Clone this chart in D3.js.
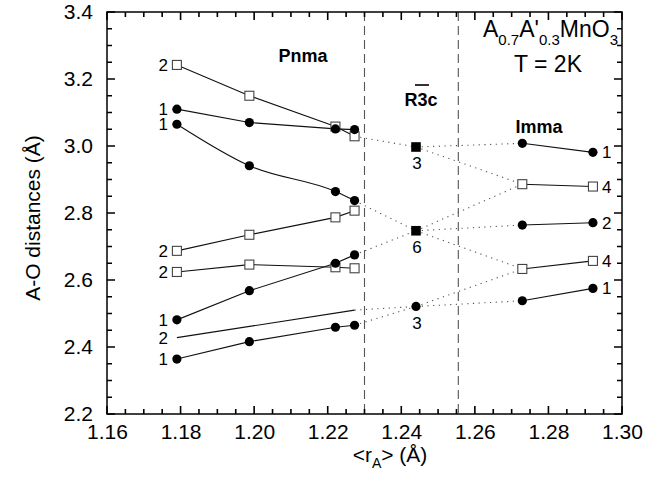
<!DOCTYPE html>
<html><head><meta charset="utf-8">
<script src="https://cdn.jsdelivr.net/npm/d3@7"></script>
<style>body{margin:0;background:#fff}svg{display:block}text{font-family:"Liberation Sans",Arial,Helvetica,sans-serif}</style>
</head><body><svg id="c" width="646" height="477"></svg>
<script>
// ---------- data ----------
const xPnma = [1.179, 1.1987, 1.2221, 1.2273];
const xR3c = [1.244];
const xImma = [1.2729, 1.2921];
const xTicks = [1.16, 1.18, 1.20, 1.22, 1.24, 1.26, 1.28, 1.30];
const yTicks = [2.2, 2.4, 2.6, 2.8, 3.0, 3.2, 3.4];
const phaseBounds = [1.2300, 1.2555];

// Pnma series (values at xPnma)
const pnmaSq2a = [3.242, 3.150, 3.058, 3.029];
const pnmaC1a  = [3.110, 3.070, 3.051, 3.049];
const pnmaC1b  = [3.065, 2.941, 2.864, 2.837];
const pnmaSq2b = [2.687, 2.735, 2.787, 2.807];
const pnmaSq2c = [2.624, 2.646, 2.638, 2.635];
const pnmaC1c  = [2.481, 2.568, 2.650, 2.675];
const pnmaL2x  = [1.179, 1.2273];
const pnmaL2   = [2.428, 2.510];
const pnmaC1d  = [2.364, 2.416, 2.459, 2.465];
const pnmaLabels = ["2", "1", "1", "2", "2", "1", "2", "1"];

// R-3c
const r3cValues = [2.997, 2.747, 2.521];
const r3cLabels = ["3", "6", "3"];
const r3cMarkers = ["square", "square", "circle"];

// Imma
const immaC1a  = [3.008, 2.981];
const immaSq4a = [2.886, 2.879];
const immaC2   = [2.764, 2.771];
const immaSq4b = [2.633, 2.657];
const immaC1b  = [2.538, 2.575];
const immaLabels = ["1", "4", "2", "4", "1"];

// dotted links: [x1, y1, x2, y2]
const links = [
  [1.2273, 3.029, 1.244, 2.997],
  [1.244, 2.997, 1.2729, 3.008],
  [1.244, 2.997, 1.2729, 2.886],
  [1.2273, 2.837, 1.244, 2.747],
  [1.2273, 2.675, 1.244, 2.747],
  [1.244, 2.747, 1.2729, 2.886],
  [1.244, 2.747, 1.2729, 2.764],
  [1.244, 2.747, 1.2729, 2.633],
  [1.2273, 2.510, 1.244, 2.521],
  [1.2273, 2.465, 1.244, 2.521],
  [1.244, 2.521, 1.2729, 2.633],
  [1.244, 2.521, 1.2729, 2.538]
];

// ---------- drawing ----------
const svg = d3.select("#c");
const L = 107, R = 622, T = 12, B = 414;
const x = d3.scaleLinear().domain([1.16, 1.30]).range([L, R]);
const y = d3.scaleLinear().domain([2.2, 3.4]).range([B, T]);
const FONT = '"Liberation Sans",Arial,Helvetica,sans-serif';

// phase boundaries
svg.append("g").selectAll("line").data(phaseBounds).join("line")
  .attr("x1", d => x(d)).attr("x2", d => x(d)).attr("y1", T).attr("y2", B)
  .attr("stroke", "#555").attr("stroke-width", 1.1).attr("stroke-dasharray", "9,5");

// dotted links
svg.append("g").selectAll("line").data(links).join("line")
  .attr("x1", d => x(d[0])).attr("y1", d => y(d[1]))
  .attr("x2", d => x(d[2])).attr("y2", d => y(d[3]))
  .attr("stroke", "#555").attr("stroke-width", 1.1).attr("stroke-dasharray", "1.2,4.5");

// frame
svg.append("rect").attr("x", L).attr("y", T).attr("width", R - L).attr("height", B - T)
  .attr("fill", "none").attr("stroke", "#000").attr("stroke-width", 1.5);

// inward ticks on all four sides, built as one path from the scales
const minorX = d3.range(0, 29).map(i => 1.16 + i * 0.005);
const minorY = d3.range(0, 25).map(i => 2.2 + i * 0.05);
const isMajor = (v, step) => Math.abs(v / step - Math.round(v / step)) < 1e-6;
const tp = d3.path();
minorX.forEach(v => {
  const len = isMajor(v, 0.02) ? 8 : 5;
  const px = x(v);
  tp.moveTo(px, B); tp.lineTo(px, B - len);
  tp.moveTo(px, T); tp.lineTo(px, T + len);
});
minorY.forEach(v => {
  const len = isMajor(v, 0.2) ? 8 : 5;
  const py = y(v);
  tp.moveTo(L, py); tp.lineTo(L + len, py);
  tp.moveTo(R, py); tp.lineTo(R - len, py);
});
svg.append("path").attr("d", tp.toString()).attr("fill", "none").attr("stroke", "#000").attr("stroke-width", 1.6);

// tick labels via d3 axes
const xl = svg.append("g").attr("transform", `translate(0,${B})`)
  .call(d3.axisBottom(x).tickValues(xTicks).tickSize(0).tickPadding(10).tickFormat(d3.format(".2f")));
xl.select(".domain").remove();
xl.selectAll("text").attr("font-size", 21).attr("font-family", FONT).attr("fill", "#000");
const yl = svg.append("g").attr("transform", `translate(${L},0)`)
  .call(d3.axisLeft(y).tickValues(yTicks).tickSize(0).tickPadding(14).tickFormat(d3.format(".1f")));
yl.select(".domain").remove();
yl.selectAll("text").attr("font-size", 21).attr("font-family", FONT).attr("fill", "#000");

// series lines
const lineLin = d3.line().x(d => x(d[0])).y(d => y(d[1]));
const lineCurve = d3.line().x(d => x(d[0])).y(d => y(d[1])).curve(d3.curveMonotoneX);
const zip = (xs, ys) => xs.map((v, i) => [v, ys[i]]);

const pnmaSeries = [
  {v: pnmaSq2a, m: "osq"}, {v: pnmaC1a, m: "circle"}, {v: pnmaC1b, m: "circle", curve: true},
  {v: pnmaSq2b, m: "osq"}, {v: pnmaSq2c, m: "osq"}, {v: pnmaC1c, m: "circle"},
  {v: pnmaL2, xs: pnmaL2x, m: "none"}, {v: pnmaC1d, m: "circle"}
];
const immaSeries = [
  {v: immaC1a, m: "circle"}, {v: immaSq4a, m: "osq"}, {v: immaC2, m: "circle"},
  {v: immaSq4b, m: "osq"}, {v: immaC1b, m: "circle"}
];

const gLines = svg.append("g").attr("fill", "none").attr("stroke", "#111").attr("stroke-width", 1.1);
pnmaSeries.forEach(s => {
  gLines.append("path").attr("d", (s.curve ? lineCurve : lineLin)(zip(s.xs || xPnma, s.v)));
});
immaSeries.forEach(s => {
  gLines.append("path").attr("d", lineLin(zip(xImma, s.v)));
});

function marker(g, px, py, m) {
  if (m === "circle") g.append("circle").attr("cx", px).attr("cy", py).attr("r", 4.6).attr("fill", "#000");
  else if (m === "osq") g.append("rect").attr("x", px - 4.5).attr("y", py - 4.5).attr("width", 9).attr("height", 9)
    .attr("fill", "#fff").attr("stroke", "#444").attr("stroke-width", 1.1);
  else if (m === "square") g.append("rect").attr("x", px - 4.8).attr("y", py - 4.8).attr("width", 9.6).attr("height", 9.6).attr("fill", "#000");
}
const gM = svg.append("g");
pnmaSeries.forEach(s => { if (s.m !== "none") (s.xs || xPnma).forEach((xv, i) => marker(gM, x(xv), y(s.v[i]), s.m)); });
immaSeries.forEach(s => xImma.forEach((xv, i) => marker(gM, x(xv), y(s.v[i]), s.m)));
r3cValues.forEach((v, i) => marker(gM, x(xR3c[0]), y(v), r3cMarkers[i]));

// number labels
const gT = svg.append("g").attr("font-family", FONT).attr("font-size", 17).attr("fill", "#000");
pnmaSeries.forEach((s, i) => {
  gT.append("text").attr("x", x(s.xs ? s.xs[0] : xPnma[0]) - 9).attr("y", y(s.v[0]))
    .attr("dy", "0.36em").attr("text-anchor", "end").text(pnmaLabels[i]);
});
immaSeries.forEach((s, i) => {
  gT.append("text").attr("x", x(xImma[1]) + 9).attr("y", y(s.v[1]))
    .attr("dy", "0.36em").attr("text-anchor", "start").text(immaLabels[i]);
});
r3cValues.forEach((v, i) => {
  gT.append("text").attr("x", x(xR3c[0]) + 1).attr("y", y(v) + 16)
    .attr("dy", "0.36em").attr("text-anchor", "middle").text(r3cLabels[i]);
});

// phase labels
const gP = svg.append("g").attr("font-family", FONT).attr("font-size", 18).attr("font-weight", "bold").attr("fill", "#000");
gP.append("text").attr("x", 303).attr("y", 62).attr("text-anchor", "middle").text("Pnma");
gP.append("text").attr("x", 421).attr("y", 106).attr("text-anchor", "middle").text("R3c");
svg.append("line").attr("x1", 415).attr("x2", 429).attr("y1", 85).attr("y2", 85).attr("stroke", "#000").attr("stroke-width", 1.6);
gP.append("text").attr("x", 539).attr("y", 133).attr("text-anchor", "middle").text("Imma");

// title
const t1 = svg.append("text").attr("x", 483).attr("y", 37).attr("font-family", FONT).attr("font-size", 23).attr("fill", "#000");
t1.append("tspan").text("A");
t1.append("tspan").attr("font-size", 15).attr("dy", 8).text("0.7");
t1.append("tspan").attr("dy", -8).text("A'");
t1.append("tspan").attr("font-size", 15).attr("dy", 8).text("0.3");
t1.append("tspan").attr("dy", -8).text("MnO");
t1.append("tspan").attr("font-size", 15).attr("dy", 8).text("3");
svg.append("text").attr("x", 548).attr("y", 72).attr("text-anchor", "middle").attr("font-family", FONT)
  .attr("font-size", 23).attr("fill", "#000").text("T = 2K");

// axis titles
const xt = svg.append("text").attr("x", 390).attr("y", 462).attr("text-anchor", "middle").attr("font-family", FONT).attr("font-size", 21).attr("fill", "#000");
xt.append("tspan").text("<r");
xt.append("tspan").attr("font-size", 14).attr("dy", 6).text("A");
xt.append("tspan").attr("dy", -6).text("> (Å)");
svg.append("text").attr("transform", "translate(40,218) rotate(-90)").attr("text-anchor", "middle")
  .attr("font-family", FONT).attr("font-size", 21).attr("fill", "#000").text("A-O distances (Å)");
</script></body></html>
